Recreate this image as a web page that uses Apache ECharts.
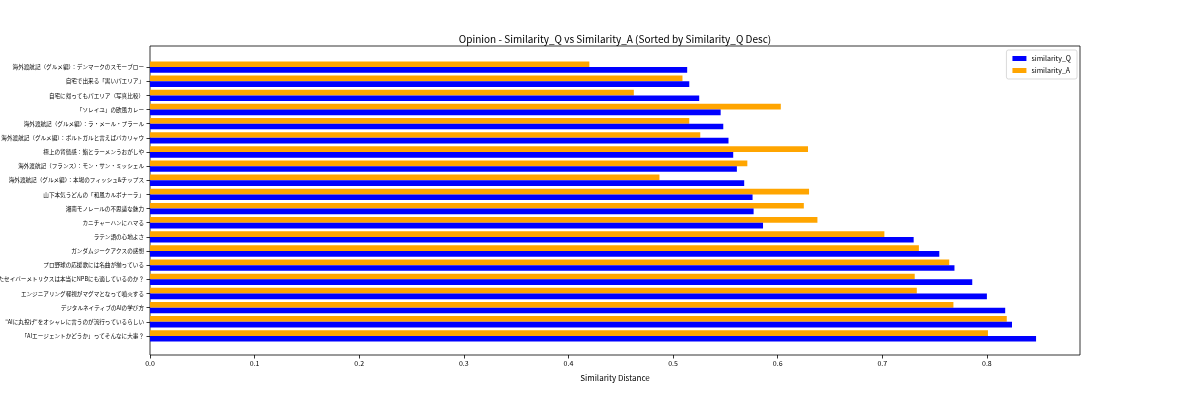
<!DOCTYPE html>
<html>
<head>
<meta charset="utf-8">
<script src="https://cdn.jsdelivr.net/npm/echarts@6/dist/echarts.min.js"></script>
<style>
  html, body { margin: 0; padding: 0; background: #fff; }
  #chart { width: 1200px; height: 400px; }
</style>
</head>
<body>
<div id="chart"></div>
<script>
// categories, bottom to top (sorted by similarity_Q desc)
var titles = [
  '「AIエージェントかどうか」ってそんなに大事？',
  '"AIに丸投げ"をオシャレに言うのが流行っているらしい',
  'デジタルネイティブのAIの学び方',
  'エンジニアリング軽視がマグマとなって噴火する',
  'たセイバーメトリクスは本当にNPBにも適しているのか？',
  'プロ野球の応援歌には名曲が揃っている',
  'ガンダムジークアクスの感想',
  'ラテン語の心地よさ',
  'カニチャーハンにハマる',
  '湘南モノレールの不思議な魅力',
  '山下本気うどんの「和風カルボナーラ」',
  '海外渡航記（グルメ編）：本場のフィッシュ&チップス',
  '海外渡航記（フランス）：モン・サン・ミッシェル',
  '極上の背徳感：鮨とラーメンうおがしや',
  '海外渡航記（グルメ編）：ポルトガルと言えばバカリャウ',
  '海外渡航記（グルメ編）：ラ・メール・プラール',
  '「ソレイユ」の欧風カレー',
  '自宅に帰ってもパエリア（写真比較）',
  '自宅で出来る「黒いパエリア」',
  '海外渡航記（グルメ編）：デンマークのスモーブロー'
]
var simQ = [0.847, 0.824, 0.8175, 0.800, 0.786, 0.769, 0.7545, 0.730, 0.586, 0.577,
            0.576, 0.568, 0.561, 0.5575, 0.553, 0.548, 0.5455, 0.525, 0.5155, 0.5135]
var simA = [0.801, 0.819, 0.768, 0.733, 0.731, 0.764, 0.735, 0.702, 0.638, 0.625,
            0.630, 0.487, 0.571, 0.629, 0.526, 0.5155, 0.603, 0.4625, 0.509, 0.420]
var xMax = 0.889

var font = 'Noto Sans CJK JP'
var chart = echarts.init(document.getElementById('chart'), null, { renderer: 'canvas' })

var option = {
  animation: false,
  textStyle: { fontFamily: font },
  title: {
    text: 'Opinion - Similarity_Q vs Similarity_A (Sorted by Similarity_Q Desc)',
    left: 615,
    textAlign: 'center',
    top: 34,
    padding: 0,
    textStyle: { fontSize: 10, fontWeight: 'normal', color: '#000', fontFamily: font }
  },
  legend: {
    data: ['similarity_Q', 'similarity_A'],
    orient: 'vertical',
    right: 123,
    top: 50,
    icon: 'rect',
    itemWidth: 14,
    itemHeight: 5,
    itemGap: 5,
    padding: [5, 6, 5, 6],
    borderColor: '#d0d0d0',
    borderWidth: 0.8,
    borderRadius: 2,
    backgroundColor: '#fff',
    textStyle: { fontSize: 7, color: '#000', fontFamily: font }
  },
  grid: [
    // frame
    { left: 150, top: 46, width: 930, height: 309, show: true, outerBoundsMode: 'none',
      containLabel: false, borderColor: '#000', borderWidth: 0.8, backgroundColor: 'transparent' },
    // bars (long labels may run off the left edge, like the original)
    { left: 150, top: 60, width: 930, height: 283, outerBoundsMode: 'none', containLabel: false }
  ],
  xAxis: [
    {
      gridIndex: 0,
      type: 'value',
      min: 0,
      max: xMax,
      interval: 0.1,
      name: 'Similarity Distance',
      nameLocation: 'middle',
      nameGap: 19,
      nameTextStyle: { fontSize: 8, color: '#000', fontFamily: font },
      axisLine: { show: false },
      axisTick: { show: true, length: 3.5, lineStyle: { color: '#000', width: 0.8 } },
      axisLabel: {
        fontSize: 7, color: '#000', margin: 5, showMaxLabel: false,
        formatter: function (v) { return v.toFixed(1) }
      },
      splitLine: { show: false }
    },
    {
      gridIndex: 1,
      type: 'value',
      min: 0,
      max: xMax,
      show: false,
      splitLine: { show: false }
    }
  ],
  yAxis: [
    {
      gridIndex: 0,
      type: 'value',
      show: false,
      splitLine: { show: false }
    },
    {
      gridIndex: 1,
      type: 'category',
      data: titles,
      axisLine: { show: false },
      axisTick: { show: true, alignWithLabel: true, length: 3.5, lineStyle: { color: '#000', width: 0.8 } },
      axisLabel: { fontSize: 5.6, color: '#000', margin: 6, interval: 0, fontFamily: font },
      splitLine: { show: false }
    }
  ],
  // A first so it sits above Q within each row
  series: [
    {
      name: 'similarity_A',
      type: 'bar',
      xAxisIndex: 1,
      yAxisIndex: 1,
      data: simA,
      barWidth: '40%',
      barGap: '0%',
      itemStyle: { color: '#ffa500' }
    },
    {
      name: 'similarity_Q',
      type: 'bar',
      xAxisIndex: 1,
      yAxisIndex: 1,
      data: simQ,
      barWidth: '40%',
      barGap: '0%',
      itemStyle: { color: '#0000ff' }
    }
  ]
}
chart.setOption(option)
</script>
</body>
</html>
